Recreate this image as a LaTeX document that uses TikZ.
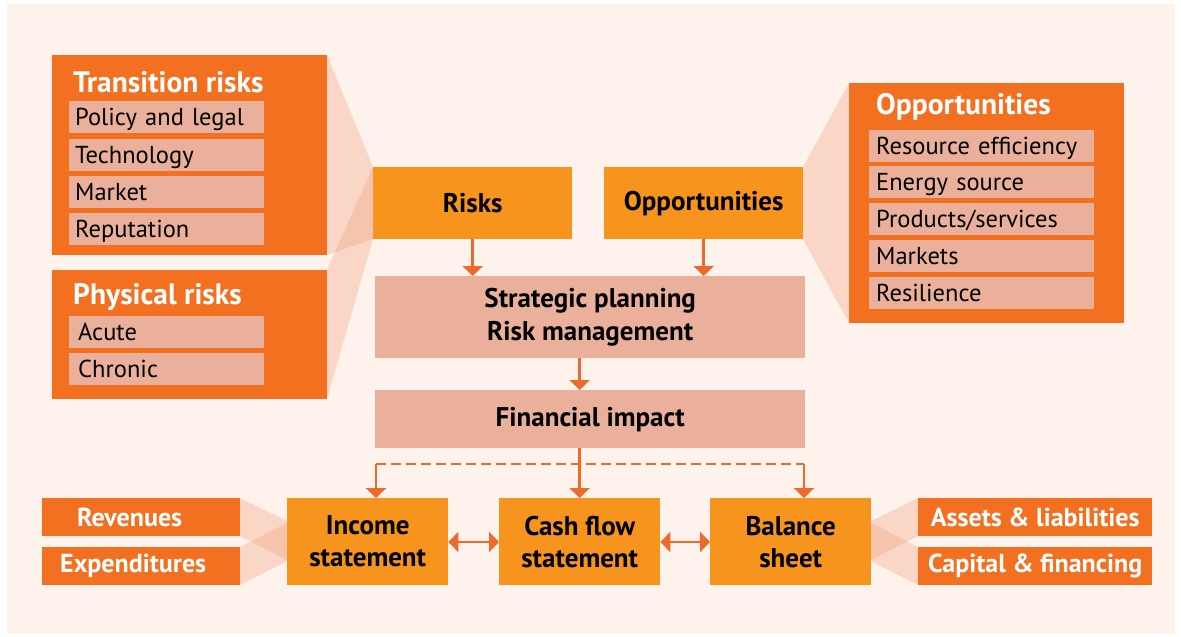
\documentclass[tikz,border=0pt]{standalone}
\usepackage{fontspec}
\setmainfont{PT Sans}
\usetikzlibrary{arrows.meta}
\definecolor{bgc}{HTML}{FDF2EC}
\definecolor{dorange}{HTML}{F37021}
\definecolor{lorange}{HTML}{F7941D}
\definecolor{salmon}{HTML}{EBB09B}
\definecolor{wedgec}{RGB}{240,152,113}
\definecolor{arrc}{HTML}{EE6A2A}
\tikzset{
  bigbox/.style={fill=dorange, draw=none, anchor=north west, inner sep=0pt},
  title/.style={anchor=west, inner sep=0pt, text=white, font=\fontsize{29.5}{33}\selectfont\bfseries},
  item/.style={fill=salmon, anchor=north west, inner sep=0pt, minimum height=32pt, text height=21pt, text depth=4pt, align=left, font=\fontsize{24.5}{28}\selectfont},
  keybox/.style={fill=lorange, anchor=north west, inner sep=0pt, align=center, font=\fontsize{27}{32}\selectfont\bfseries},
  midbox/.style={fill=salmon, anchor=north west, inner sep=0pt, align=center, font=\fontsize{27}{33}\selectfont\bfseries},
  sidebox/.style={fill=dorange, anchor=north west, inner sep=0pt, minimum height=38pt, text=white, font=\fontsize{26}{30}\selectfont\bfseries},
  wedge/.style={fill=wedgec, fill opacity=0.3, draw=none},
  arr/.style={draw=arrc, line width=2.6pt, -{Triangle[width=20pt,length=10pt]}},
  darr/.style={draw=arrc, line width=2.6pt, {Triangle[width=20pt,length=10pt]}-{Triangle[width=20pt,length=10pt]}},
  dline/.style={draw=arrc, line width=2.6pt, dash pattern=on 10pt off 5pt},
}
\begin{document}
\begin{tikzpicture}[x=1pt,y=-1pt]
\useasboundingbox (0,0) rectangle (1181,637);
\fill[white] (0,0) rectangle (1181,637);
\fill[bgc] (7,4) rectangle (1175,634);

% wedges
\fill[wedge] (327,55) -- (373,167) -- (373,239) -- (327,255) -- cycle;
\fill[wedge] (327,270) -- (373,167) -- (373,239) -- (327,399) -- cycle;
\fill[wedge] (849,83) -- (803,167) -- (803,239) -- (849,323) -- cycle;
\fill[wedge] (240,498) -- (287,521) -- (287,560) -- (240,536) -- cycle;
\fill[wedge] (240,547) -- (287,523) -- (287,561) -- (240,585) -- cycle;
\fill[wedge] (918,498) -- (871,521) -- (871,560) -- (918,536) -- cycle;
\fill[wedge] (918,547) -- (871,523) -- (871,561) -- (918,585) -- cycle;

% Transition risks
\node[bigbox, minimum width=275pt, minimum height=200pt] (trans) at (52,55) {};
\node[title] (transT) at (73,82) {Transition risks};
\node[item, minimum width=195pt, text width=183pt, inner xsep=6pt] (t1) at (69,101) {Policy and legal};
\node[item, minimum width=195pt, text width=183pt, inner xsep=6pt] (t2) at (69,139) {Technology};
\node[item, minimum width=195pt, text width=183pt, inner xsep=6pt] (t3) at (69,176) {Market};
\node[item, minimum width=195pt, text width=183pt, inner xsep=6pt] (t4) at (69,213) {Reputation};

% Physical risks
\node[bigbox, minimum width=275pt, minimum height=129pt] (phys) at (52,270) {};
\node[title] (physT) at (73,297) {Physical risks};
\node[item, minimum width=195pt, text width=177pt, inner xsep=9pt] (p1) at (69,316) {Acute};
\node[item, minimum width=195pt, text width=177pt, inner xsep=9pt] (p2) at (69,353) {Chronic};

% Opportunities (right)
\node[bigbox, minimum width=275pt, minimum height=240pt] (opps) at (849,83) {};
\node[title] (oppsT) at (876,107) {Opportunities};
\node[item, minimum width=225pt, text width=211pt, inner xsep=7pt] (o1) at (869,130) {Resource efficiency};
\node[item, minimum width=225pt, text width=211pt, inner xsep=7pt] (o2) at (869,166) {Energy source};
\node[item, minimum width=225pt, text width=211pt, inner xsep=7pt] (o3) at (869,203) {Products/services};
\node[item, minimum width=225pt, text width=211pt, inner xsep=7pt] (o4) at (869,240) {Markets};
\node[item, minimum width=225pt, text width=211pt, inner xsep=7pt] (o5) at (869,277) {Resilience};

% centre column
\node[keybox, minimum width=199pt, minimum height=72pt] (risks) at (373,167) {Risks};
\node[keybox, minimum width=199pt, minimum height=72pt] (opp) at (604,167) {Opportunities};
\node[midbox, minimum width=430pt, minimum height=82pt] (strat) at (375,276) {Strategic planning\\Risk management};
\node[midbox, minimum width=430pt, minimum height=58pt] (fin) at (375,390) {Financial impact};

\node[keybox, minimum width=161pt, minimum height=87pt] (inc) at (287,498) {Income\\statement};
\node[keybox, minimum width=161pt, minimum height=87pt] (cash) at (499,498) {Cash flow\\statement};
\node[keybox, minimum width=161pt, minimum height=87pt] (bal) at (710,498) {Balance\\sheet};

\node[sidebox, minimum width=198pt, text width=128pt, align=left, inner xsep=35pt] (rev) at (42,498) {Revenues};
\node[sidebox, minimum width=198pt, text width=162pt, align=left, inner xsep=18pt] (exp) at (42,547) {Expenditures};
\node[sidebox, minimum width=234pt] (ass) at (918,498) {Assets \& liabilities};
\node[sidebox, minimum width=234pt] (cap) at (918,547) {Capital \& financing};

% connectors
\draw[arr] (risks.south) -- (risks.south |- strat.north);
\draw[arr] (opp.south) -- (opp.south |- strat.north);
\draw[arr] (strat.south -| cash.north) -- (fin.north -| cash.north);
\draw[arr] (fin.south -| cash.north) -- (cash.north);
\coordinate (dl) at (376,464);
\coordinate (dr) at (804,464);
\draw[dline] (dl) -- (dr);
\draw[arr] (dl) -- (dl |- inc.north);
\draw[arr] (dr) -- (dr |- bal.north);
\draw[darr] (inc.east |- 0,542) -- (cash.west |- 0,542);
\draw[darr] (cash.east |- 0,542) -- (bal.west |- 0,542);
\end{tikzpicture}
\end{document}
